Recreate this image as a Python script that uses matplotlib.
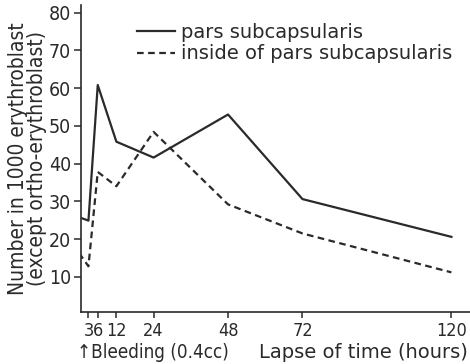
import matplotlib
matplotlib.use("Agg")
import matplotlib.pyplot as plt

# hours after bleeding
hours = [0, 3, 6, 12, 24, 48, 72, 120]
pars_sub = [25.8, 24.9, 60.8, 45.8, 41.6, 53.0, 30.6, 20.6]
inside_sub = [16.3, 12.8, 37.8, 34.0, 48.4, 29.2, 21.5, 11.2]

tick_pos = [3, 6, 12, 24, 48, 72, 120]
tick_lab = ["3", "6", "12", "24", "48", "72", "120"]
ytick_pos = [10, 20, 30, 40, 50, 60, 70, 80]

plt.rcParams['font.family'] = ['DejaVu Sans']
plt.rcParams['font.stretch'] = 'condensed'
ink = "#2a2a2a"

fig = plt.figure(figsize=(4.70, 3.64), dpi=100)
ax = fig.add_axes([81 / 470, 52 / 364, 389 / 470, 307 / 364])

ax.plot(hours, pars_sub, color=ink, lw=1.6, label="pars subcapsularis")
ax.plot(hours, inside_sub, color=ink, lw=1.6, ls=(0, (3, 2)),
        label="inside of pars subcapsularis")

ax.set_xlim(0.6, 126)
ax.set_ylim(0.7, 82)
ax.set_xticks(tick_pos)
ax.set_xticklabels(tick_lab)
ax.set_yticks(ytick_pos)

for s in ["top", "right"]:
    ax.spines[s].set_visible(False)
for s in ["left", "bottom"]:
    ax.spines[s].set_color(ink)
    ax.spines[s].set_linewidth(1.2)
ax.tick_params(colors=ink, labelsize=14, length=5, width=1.1, pad=2)
ax.tick_params(axis="x", length=4, pad=3, labelsize=13)

ax.set_ylabel("Number in 1000 erythroblast\n(except ortho-erythroblast)",
              fontsize=15, color=ink, linespacing=0.95)
ax.yaxis.set_label_coords(-0.088, 0.5)

fig.text(77 / 470, 6 / 364, "\u2191Bleeding (0.4cc)", fontsize=13.5,
         color=ink)
fig.text(468 / 470, 6 / 364, "Lapse of time (hours)", fontsize=14, color=ink,
         ha="right", fontstretch='normal')

ax.legend(loc="upper left", bbox_to_anchor=(38 / 389, 1.0), frameon=False,
          prop={'size': 14, 'stretch': 'normal'},
          handlelength=2.0, handletextpad=0.3, labelspacing=0.15,
          labelcolor=ink)

fig.savefig("out.png", dpi=100)
